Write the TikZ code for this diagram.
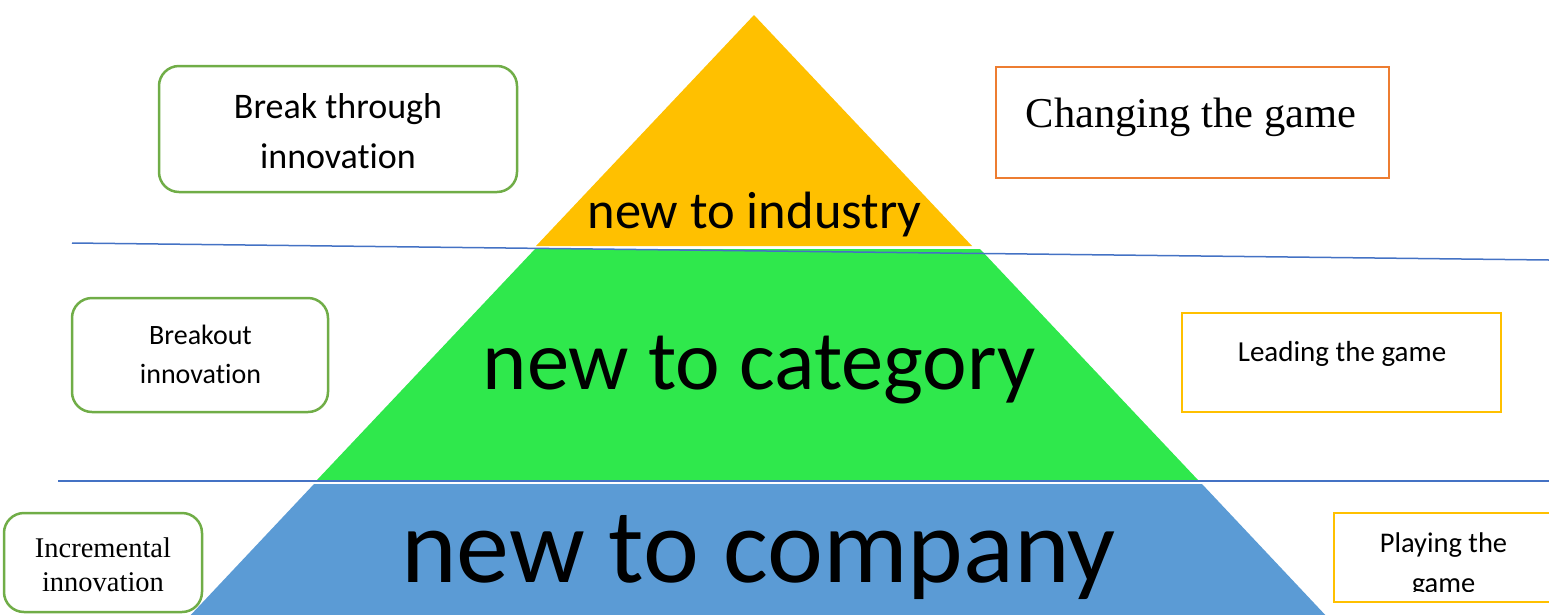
\documentclass[tikz,border=0pt]{standalone}
\usepackage{fontspec}
\newfontfamily\calib[Ligatures=NoCommon]{Carlito}
\newfontfamily\tnr{Liberation Serif}
\definecolor{pyYellow}{HTML}{FFC000}
\definecolor{pyGreen}{HTML}{2FE84C}
\definecolor{pyBlue}{HTML}{5B9BD5}
\definecolor{bxGreen}{HTML}{70AD47}
\definecolor{bxOrange}{HTML}{ED7D31}
\definecolor{bxGold}{HTML}{FFC000}
\definecolor{lnBlue}{HTML}{4472C4}
\tikzset{
  gbox/.style={draw=bxGreen, line width=2.5pt, rounded corners=20pt, fill=white, inner sep=0pt},
  obox/.style={draw=bxOrange, line width=2.5pt, fill=white, inner sep=0pt},
  ybox/.style={draw=bxGold, line width=2.5pt, fill=white, inner sep=0pt},
  txt/.style={inner sep=0pt, anchor=base, text=black},
  sep/.style={draw=lnBlue, line width=1.5pt},
}
\begin{document}
\begin{tikzpicture}[x=1pt,y=-1pt]
\useasboundingbox (0,0) rectangle (1549,614);
\clip (0,0) rectangle (1549,614);
% pyramid
\fill[pyYellow] (754,15) -- (972,246) -- (536,246) -- cycle;
\fill[pyGreen] (535,249) -- (980,249) -- (1198,480) -- (317,480) -- cycle;
\fill[pyBlue] (314,484) -- (1202,484) -- (1330,620) -- (186,620) -- cycle;
\node[txt, font=\calib\fontsize{52.5}{63}\selectfont] (ind) at (754.5,228) {new to industry};
\node[txt, font=\calib\fontsize{84.5}{100}\selectfont] (cat) at (759,389) {new to category};
\node[txt, font=\calib\fontsize{106}{127}\selectfont] (com) at (758.5,582) {new to company};
% separator lines
\coordinate (l1a) at (72,243); \coordinate (l1b) at (1549,260);
\coordinate (l2a) at (58,481); \coordinate (l2b) at (1549,481);
\draw[sep] (l1a) -- (l1b);
\draw[sep] (l2a) -- (l2b);
% left boxes
\node[gbox, minimum width=358pt, minimum height=126pt] (bt) at (338,129) {};
\node[txt, font=\calib\fontsize{36}{44}\selectfont] (bt1) at (338,118) {Break through};
\node[txt, font=\calib\fontsize{36}{44}\selectfont] (bt2) at (338,168) {innovation};
\node[gbox, minimum width=256pt, minimum height=114pt] (bo) at (200,355) {};
\node[txt, font=\calib\fontsize{28}{34}\selectfont] (bo1) at (200.5,344) {Breakout};
\node[txt, font=\calib\fontsize{28}{34}\selectfont] (bo2) at (200.5,383) {innovation};
\node[gbox, minimum width=198pt, minimum height=99pt] (inc) at (103,562.5) {};
\node[txt, font=\tnr\fontsize{28.5}{34}\selectfont] (inc1) at (103,557) {Incremental};
\node[txt, font=\tnr\fontsize{28.5}{34}\selectfont] (inc2) at (103,591) {innovation};
% right boxes
\node[obox, minimum width=393pt, minimum height=111pt] (cg) at (1192.5,122.5) {};
\node[txt, font=\tnr\fontsize{42.5}{50}\selectfont] (cg1) at (1191,127) {Changing the game};
\node[ybox, minimum width=319pt, minimum height=99pt] (lg) at (1341.5,362.5) {};
\node[txt, font=\calib\fontsize{29}{35}\selectfont] (lg1) at (1342,361) {Leading the game};
\node[ybox, minimum width=219pt, minimum height=89pt] (pg) at (1443.5,557.5) {};
\node[txt, font=\calib\fontsize{28.5}{34}\selectfont] (pg1) at (1443.5,552) {Playing the};
\begin{scope}
\clip (1334,513) rectangle (1553,591);
\node[txt, font=\calib\fontsize{28.5}{34}\selectfont] (pg2) at (1443.5,592) {game};
\end{scope}
\end{tikzpicture}
\end{document}
